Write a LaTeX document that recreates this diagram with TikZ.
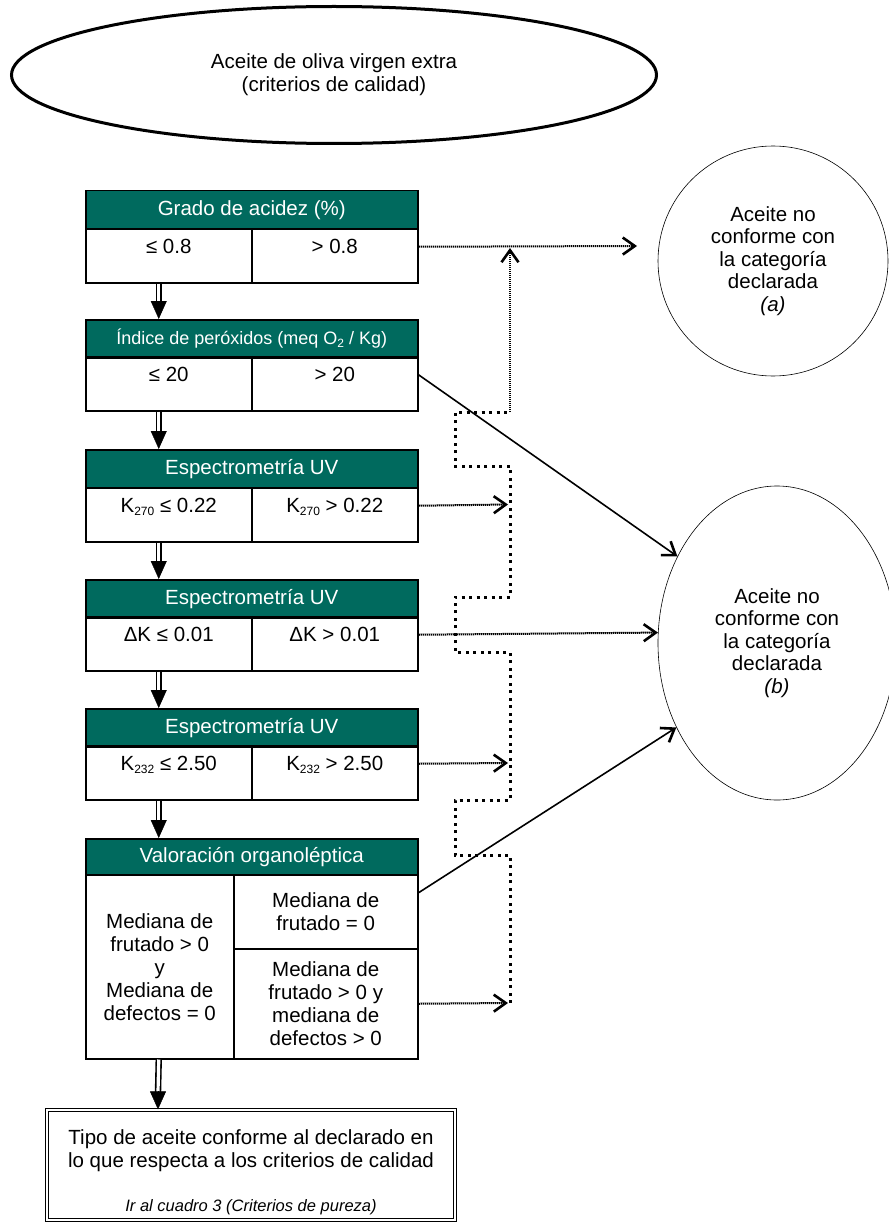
\documentclass[tikz,border=0pt]{standalone}
\usepackage{fontspec}
\setmainfont{Liberation Sans}
\usetikzlibrary{shapes.geometric,arrows.meta}
\definecolor{hdrteal}{RGB}{0,106,94}
\newcommand{\lowidx}[1]{\raisebox{-3pt}{\fontsize{12}{12}\selectfont #1}}

\begin{document}
\begin{tikzpicture}[x=1pt, y=-1pt,
  every node/.style={font=\fontsize{20.5}{23}\selectfont},
  hdr/.style={draw, line width=1.5pt, fill=hdrteal, text=white, minimum width=332pt, minimum height=38pt, anchor=north west, inner sep=0pt},
  cell/.style={draw, line width=1.5pt, minimum width=166pt, minimum height=54pt, anchor=north west, inner sep=0pt, text height=13pt, text depth=18pt},
  cellm/.style={draw, line width=1.5pt, anchor=north west, inner sep=0pt, align=center},
  dblline/.style={double, double distance=3.2pt, line width=1.6pt},
  downhead/.style={-{Triangle[length=18pt,width=16pt]}, line width=0.4pt},
  tipbarb/.style={-{Straight Barb[length=12pt,width=17pt,line width=2.6pt]}},
  dotarr/.style={tipbarb, line width=2pt, dash pattern=on 1.4pt off 0.6pt},
  solarr/.style={tipbarb, line width=1.6pt},
  busline/.style={line width=3pt, dash pattern=on 3pt off 4.5pt}]
\useasboundingbox (0,0) rectangle (888,1225);

\node[draw, ellipse, line width=3pt, minimum width=645pt, minimum height=137pt, align=center, inner sep=0pt] (olive) at (334,75) {Aceite de oliva virgen extra\\(criterios de calidad)};

% grado de acidez
\node[hdr] (h1) at (85,190) {Grado de acidez (\%)};
\node[cell] (c1l) at (85,228) {≤ 0.8};
\node[cell] (c1r) at (251,228) {> 0.8};

% peroxidos
\node[hdr, font=\fontsize{18}{21}\selectfont] (h2) at (85,319) {Índice de peróxidos (meq O\lowidx{2} / Kg)};
\node[cell] (c2l) at (85,356) {≤ 20};
\node[cell] (c2r) at (251,356) {> 20};

% UV
\node[hdr] (h3) at (85,449) {Espectrometría UV};
\node[cell] (c3l) at (85,487) {K\lowidx{270} ≤ 0.22};
\node[cell] (c3r) at (251,487) {K\lowidx{270} > 0.22};

\node[hdr] (h4) at (85,579) {Espectrometría UV};
\node[cell] (c4l) at (85,616) {ΔK ≤ 0.01};
\node[cell] (c4r) at (251,616) {ΔK > 0.01};

\node[hdr] (h5) at (85,708) {Espectrometría UV};
\node[cell] (c5l) at (85,745) {K\lowidx{232} ≤ 2.50};
\node[cell] (c5r) at (251,745) {K\lowidx{232} > 2.50};

% organoleptica
\node[hdr, minimum height=36pt] (h6) at (85,838) {Valoración organoléptica};
\node[cellm, minimum width=148pt, minimum height=184pt] (c6l) at (85,874) {Mediana de\\frutado > 0\\y\\Mediana de\\defectos = 0};
\node[cellm, minimum width=184pt, minimum height=74pt] (c6u) at (233,874) {Mediana de\\frutado = 0};
\node[cellm, minimum width=184pt, minimum height=110pt] (c6d) at (233,948) {Mediana de\\frutado > 0 y\\mediana de\\defectos > 0};

\node[draw, double, double distance=1.6pt, line width=1.3pt, minimum width=408pt, minimum height=110pt, align=center, inner sep=0pt] (fin) at (251,1165) {\rule{0pt}{30pt}Tipo de aceite conforme al declarado en\\lo que respecta a los criterios de calidad\\[21pt]{\fontsize{16.5}{18}\selectfont\itshape Ir al cuadro 3 (Criterios de pureza)}};

% resultados
\node[draw, circle, line width=0.6pt, minimum size=230pt, align=center, inner sep=0pt, font=\fontsize{20.5}{22.5}\selectfont] (nca) at (773,261) {Aceite no\\conforme con\\la categoría\\declarada\\\textit{(a)}};
\node[draw, ellipse, line width=0.6pt, minimum width=238pt, minimum height=314pt, align=center, inner sep=0pt, font=\fontsize{20.5}{22.5}\selectfont] (ncb) at (777,643) {Aceite no\\conforme con\\la categoría\\declarada\\\textit{(b)}};

\foreach \a/\s/\b in {c1l/-10/h2, c2l/-10/h3, c3l/-10/h4, c4l/-10/h5, c5l/-10/h6, c6l/-1/fin} {
  \draw[dblline] ([xshift=\s pt]\a.south) -- ([xshift=-93pt, yshift=17pt]\b.north);
  \draw[downhead] ([xshift=-93pt, yshift=18pt]\b.north) -- ([xshift=-93pt]\b.north);
}

\coordinate (atip) at (637,246);
\coordinate (e3) at (508,504.5);
\coordinate (e5) at (508,763);
\coordinate (e6) at (508,1003);
\coordinate (busb) at (510,1003);
\coordinate (bust) at (510,412);
\coordinate (upend) at (510,248);

\draw[busline] (busb) -- (510,855) -- (455,855) -- (455,800) -- (510,800) -- (510,652) -- (455,652) -- (455,597) -- (510,597) -- (510,466) -- (455,466) -- (455,412) -- (bust);
\draw[dotarr] (bust) -- (upend);

\draw[dotarr] ([yshift=9pt]c1r.east) -- (atip);
\draw[solarr] ([yshift=9pt]c2r.east) -- (ncb.139);
\draw[dotarr] ([yshift=9pt]c3r.east) -- (e3);
\draw[dotarr] ([yshift=9pt]c4r.east) -- (ncb.175);
\draw[dotarr] ([yshift=9pt]c5r.east) -- (e5);
\draw[solarr] ([yshift=19pt]c6u.east) -- (ncb.220);
\draw[dotarr] (c6d.east) -- (e6);

\end{tikzpicture}
\end{document}
